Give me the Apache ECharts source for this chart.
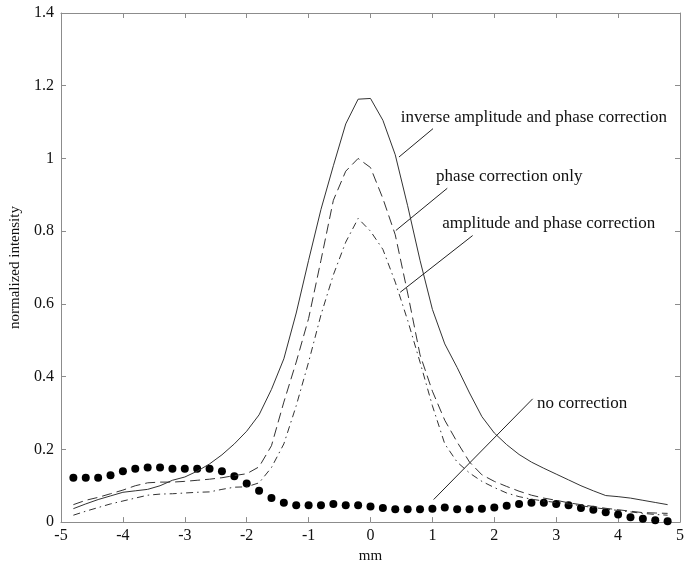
<!DOCTYPE html>
<html>
<head>
<meta charset="utf-8">
<script src="https://cdn.jsdelivr.net/npm/echarts@6/dist/echarts.min.js"></script>
<style>
  html, body { margin: 0; padding: 0; background: #ffffff; }
  #chart { width: 699px; height: 569px; }
</style>
</head>
<body>
<div id="chart"></div>
<script>
// position in mm, 0.2 mm steps
const xs = [-4.8, -4.6, -4.4, -4.2, -4.0, -3.8, -3.6, -3.4, -3.2, -3.0, -2.8, -2.6, -2.4, -2.2, -2.0, -1.8, -1.6, -1.4, -1.2, -1.0, -0.8, -0.6, -0.4, -0.2, 0,
            0.2, 0.4, 0.6, 0.8, 1.0, 1.2, 1.4, 1.6, 1.8, 2.0, 2.2, 2.4, 2.6, 2.8, 3.0, 3.2, 3.4, 3.6, 3.8, 4.0, 4.2, 4.4, 4.6, 4.8];

const inverseAmpPhase = [0.037, 0.050, 0.062, 0.072, 0.082, 0.086, 0.090, 0.100, 0.115, 0.124, 0.140, 0.160, 0.185, 0.215, 0.250, 0.295, 0.365, 0.449, 0.575, 0.72, 0.86, 0.98, 1.095, 1.163, 1.165,
                         1.105, 1.01, 0.87, 0.72, 0.585, 0.49, 0.425, 0.355, 0.29, 0.245, 0.213, 0.186, 0.165, 0.148, 0.132, 0.116, 0.100, 0.086, 0.073, 0.070, 0.066, 0.060, 0.054, 0.048];

const phaseOnly = [0.048, 0.060, 0.068, 0.078, 0.088, 0.100, 0.108, 0.110, 0.110, 0.112, 0.115, 0.118, 0.122, 0.128, 0.133, 0.152, 0.21, 0.33, 0.44, 0.56, 0.72, 0.885, 0.965, 1.0, 0.975,
                   0.89, 0.79, 0.63, 0.46, 0.36, 0.28, 0.22, 0.165, 0.13, 0.112, 0.098, 0.085, 0.074, 0.066, 0.060, 0.053, 0.048, 0.043, 0.038, 0.034, 0.030, 0.026, 0.025, 0.024];

const ampPhase = [0.019, 0.030, 0.040, 0.050, 0.058, 0.066, 0.074, 0.077, 0.078, 0.080, 0.082, 0.083, 0.090, 0.096, 0.097, 0.108, 0.15, 0.215, 0.32, 0.44, 0.57, 0.68, 0.77, 0.835, 0.80,
                  0.75, 0.66, 0.555, 0.44, 0.32, 0.215, 0.165, 0.135, 0.112, 0.095, 0.080, 0.070, 0.063, 0.058, 0.054, 0.050, 0.045, 0.040, 0.036, 0.032, 0.028, 0.024, 0.021, 0.019];

const noCorrection = [0.122, 0.122, 0.122, 0.129, 0.140, 0.147, 0.150, 0.150, 0.147, 0.147, 0.147, 0.147, 0.140, 0.126, 0.106, 0.086, 0.066, 0.053, 0.046, 0.046, 0.046, 0.050, 0.046, 0.046, 0.043,
                      0.039, 0.035, 0.035, 0.035, 0.037, 0.040, 0.035, 0.035, 0.037, 0.040, 0.045, 0.050, 0.053, 0.053, 0.050, 0.046, 0.039, 0.034, 0.027, 0.021, 0.013, 0.009, 0.005, 0.002];

const noteLabels = ['inverse amplitude and phase correction', 'phase correction only', 'amplitude and phase correction', 'no correction'];

const pairs = (ys) => xs.map((x, i) => [x, ys[i]]);

// annotation placement (data coords): text anchor, leader start, leader end
const notes = [
  { at: [0.49, 1.113], from: [0.46, 1.004], to: [1.01, 1.082] },
  { at: [1.06, 0.951], from: [0.41, 0.802], to: [1.24, 0.918] },
  { at: [1.16, 0.820], from: [0.48, 0.632], to: [1.65, 0.788] },
  { at: [2.69, 0.327], from: [1.02, 0.062], to: [2.62, 0.339] }
];

const serif = '"Liberation Serif", "DejaVu Serif", serif';
const frame = '#8c8c8c';

const chart = echarts.init(document.getElementById('chart'));

const option = {
  backgroundColor: '#ffffff',
  animation: false,
  textStyle: { fontFamily: serif, color: '#111' },
  grid: { left: 59, right: 19, top: 13, bottom: 46, containLabel: false },
  xAxis: [{
    type: 'value', min: -5, max: 5, interval: 1,
    name: 'mm', nameLocation: 'middle', nameGap: 25,
    nameTextStyle: { fontFamily: serif, fontSize: 15, color: '#111' },
    axisLine: { onZero: false, lineStyle: { color: frame } },
    axisTick: { inside: true, length: 5, lineStyle: { color: frame } },
    axisLabel: { fontFamily: serif, fontSize: 16, color: '#111', margin: 6 },
    splitLine: { show: false }
  }, {
    type: 'value', min: -5, max: 5, interval: 1, position: 'top',
    axisLine: { onZero: false, lineStyle: { color: frame } },
    axisTick: { inside: true, length: 5, lineStyle: { color: frame } },
    axisLabel: { show: false },
    splitLine: { show: false }
  }],
  yAxis: [{
    type: 'value', min: 0, max: 1.4, interval: 0.2,
    name: 'normalized intensity', nameLocation: 'middle', nameGap: 38,
    nameTextStyle: { fontFamily: serif, fontSize: 15, color: '#111' },
    axisLine: { show: true, onZero: false, lineStyle: { color: frame } },
    axisTick: { show: true, inside: true, length: 5, lineStyle: { color: frame } },
    axisLabel: { fontFamily: serif, fontSize: 16, color: '#111', margin: 7 },
    splitLine: { show: false }
  }, {
    type: 'value', min: 0, max: 1.4, interval: 0.2, position: 'right',
    axisLine: { show: true, onZero: false, lineStyle: { color: frame } },
    axisTick: { show: true, inside: true, length: 5, lineStyle: { color: frame } },
    axisLabel: { show: false },
    splitLine: { show: false }
  }],
  series: [{
    name: noteLabels[0], type: 'line', data: pairs(inverseAmpPhase),
    showSymbol: false, lineStyle: { color: '#333', width: 1, type: 'solid' }
  }, {
    name: noteLabels[1], type: 'line', data: pairs(phaseOnly),
    showSymbol: false, lineStyle: { color: '#333', width: 1, type: [10, 5] }
  }, {
    name: noteLabels[2], type: 'line', data: pairs(ampPhase),
    showSymbol: false, lineStyle: { color: '#333', width: 1, type: [7, 4, 1.5, 4] }
  }, {
    name: noteLabels[3], type: 'scatter', data: pairs(noCorrection),
    symbol: 'circle', symbolSize: 8, itemStyle: { color: '#000', opacity: 1 }
  }, {
    // leader lines and labels
    type: 'line', data: [], silent: true,
    markLine: {
      silent: true, symbol: 'none', animation: false,
      label: { show: false },
      lineStyle: { color: '#222', width: 1, type: 'solid' },
      data: notes.map(n => [{ coord: n.from }, { coord: n.to }])
    },
    markPoint: {
      silent: true, animation: false,
      data: notes.map((n, i) => ({
        coord: n.at, symbol: 'circle', symbolSize: 0,
        label: {
          show: true, position: 'right', distance: 0,
          formatter: noteLabels[i],
          fontFamily: serif, fontSize: 17, color: '#111'
        }
      }))
    }
  }]
};

chart.setOption(option);
</script>
</body>
</html>
